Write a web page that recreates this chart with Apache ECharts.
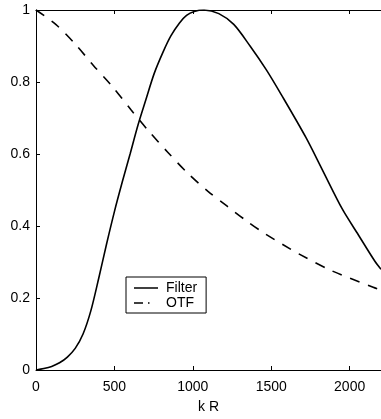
<!DOCTYPE html>
<html>
<head>
<meta charset="utf-8">
<script src="https://cdn.jsdelivr.net/npm/echarts@6/dist/echarts.min.js"></script>
<style>
  html, body { margin: 0; padding: 0; background: #fff; }
  #chart { width: 381px; height: 419px; }
</style>
</head>
<body>
<div id="chart"></div>
<script>
// Filter response vs. k R
const filterK = [0, 50, 100, 150, 200, 250, 300, 350, 400, 450, 500, 550, 600, 650, 700, 754, 810, 860, 915, 960, 1009, 1072, 1166, 1261, 1365, 1470, 1564, 1721, 1826, 1952, 2056, 2161, 2200];
const filterV = [0, 0.004, 0.010, 0.020, 0.036, 0.060, 0.100, 0.165, 0.255, 0.350, 0.440, 0.522, 0.600, 0.680, 0.750, 0.824, 0.883, 0.928, 0.964, 0.985, 0.996, 1.0, 0.99, 0.96, 0.90, 0.833, 0.765, 0.646, 0.556, 0.448, 0.375, 0.302, 0.28];

// Optical transfer function vs. k R
const otfK = [0, 126, 251, 366, 482, 607, 716, 840, 967, 1095, 1219, 1340, 1459, 1679, 1889, 2150, 2200];
const otfV = [1.0, 0.96, 0.905, 0.846, 0.790, 0.722, 0.665, 0.605, 0.547, 0.497, 0.455, 0.415, 0.379, 0.322, 0.275, 0.230, 0.222];

const xTicks = [0, 500, 1000, 1500, 2000];
const yTicks = [0, 0.2, 0.4, 0.6, 0.8, 1];
const seriesNames = ['Filter', 'OTF'];

const pairs = (xs, ys) => xs.map((x, i) => [x, ys[i]]);

const font = 'Liberation Sans, Arial, Helvetica, sans-serif';
const ink = '#000';

const chart = echarts.init(document.getElementById('chart'), null, { renderer: 'canvas' });

const xBase = {
  type: 'value',
  min: 0,
  max: 2200,
  interval: 500,
  axisLine: { show: true, lineStyle: { color: ink, width: 1 } },
  axisTick: { show: true, inside: true, length: 4, lineStyle: { color: ink } },
  splitLine: { show: false }
};

chart.setOption({
  animation: false,
  backgroundColor: '#fff',
  grid: { left: 36, top: 10, right: -5, bottom: 41, containLabel: false },
  xAxis: [
    Object.assign({}, xBase, {
      position: 'bottom',
      name: 'k R',
      nameLocation: 'middle',
      nameGap: 30,
      nameTextStyle: { color: ink, fontSize: 14, fontFamily: font },
      axisLabel: {
        show: true, color: ink, fontSize: 14, fontFamily: font, margin: 10,
        showMaxLabel: false,
        formatter: v => (xTicks.indexOf(v) >= 0 ? String(v) : '')
      }
    }),
    Object.assign({}, xBase, {
      position: 'top',
      axisLabel: { show: false }
    })
  ],
  yAxis: [{
    type: 'value',
    min: 0,
    max: 1,
    interval: 0.2,
    axisLine: { show: true, lineStyle: { color: ink, width: 1 } },
    axisTick: { show: true, inside: true, length: 4, lineStyle: { color: ink } },
    splitLine: { show: false },
    axisLabel: {
      color: ink, fontSize: 14, fontFamily: font, margin: 6,
      formatter: v => {
        const t = yTicks.find(y => Math.abs(y - v) < 1e-9);
        return t === undefined ? '' : String(Math.round(t * 10) / 10);
      }
    }
  }],
  legend: {
    orient: 'vertical',
    left: 126,
    top: 277,
    padding: [4, 9, 3, 8],
    itemGap: 1,
    itemWidth: 24,
    itemHeight: 2,
    borderColor: ink,
    borderWidth: 1,
    backgroundColor: '#fff',
    textStyle: { color: ink, fontSize: 14, fontFamily: font, padding: [0, 0, 0, 3] },
    data: [
      { name: seriesNames[0], icon: 'path://M0,0H24V1.5H0Z', itemStyle: { color: ink } },
      { name: seriesNames[1], icon: 'path://M0,0H9V1.5H0Z M14,0H15.5V1.5H14Z M23.9,0H24V0.05H23.9Z', itemStyle: { color: ink } }
    ]
  },
  series: [
    {
      name: seriesNames[0],
      type: 'line',
      data: pairs(filterK, filterV),
      smooth: 0.3,
      showSymbol: false,
      symbol: 'none',
      clip: true,
      lineStyle: { color: ink, width: 1.6 },
      itemStyle: { color: ink }
    },
    {
      name: seriesNames[1],
      type: 'line',
      data: pairs(otfK, otfV),
      smooth: 0.3,
      showSymbol: false,
      symbol: 'none',
      clip: true,
      lineStyle: { color: ink, width: 1.6, type: [10, 9] },
      itemStyle: { color: ink }
    }
  ]
});
</script>
</body>
</html>
